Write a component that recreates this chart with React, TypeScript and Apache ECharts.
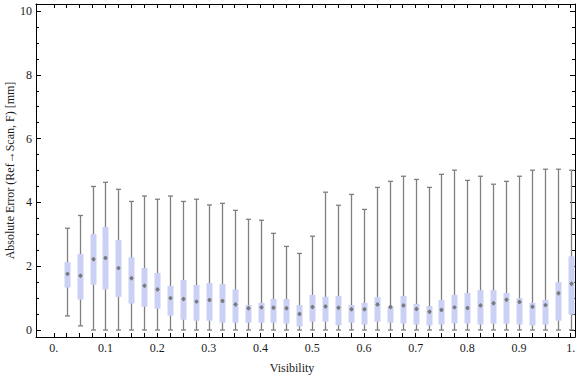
import React, { useEffect, useRef } from "react";
import * as echarts from "echarts";

const visibility = [
  0.025, 0.05, 0.075, 0.1, 0.125, 0.15, 0.175, 0.2, 0.225, 0.25,
  0.275, 0.3, 0.325, 0.35, 0.375, 0.4, 0.425, 0.45, 0.475, 0.5,
  0.525, 0.55, 0.575, 0.6, 0.625, 0.65, 0.675, 0.7, 0.725, 0.75,
  0.775, 0.8, 0.825, 0.85, 0.875, 0.9, 0.925, 0.95, 0.975, 1.0,
];
const whiskerLow = [
  0.44, 0.13, 0, 0, 0, 0, 0, 0, 0, 0,
  0, 0, 0, 0, 0, 0, 0, 0, 0, 0,
  0, 0, 0, 0, 0, 0, 0, 0, 0, 0,
  0, 0, 0, 0, 0, 0, 0, 0, 0, 0,
];
const q1 = [
  1.33, 0.95, 1.42, 1.27, 1.04, 0.83, 0.73, 0.67, 0.45, 0.32,
  0.29, 0.29, 0.23, 0.23, 0.23, 0.23, 0.23, 0.2, 0.11, 0.26,
  0.26, 0.15, 0.23, 0.17, 0.26, 0.23, 0.2, 0.17, 0.14, 0.17,
  0.21, 0.2, 0.17, 0.2, 0.2, 0.17, 0.14, 0.17, 0.29, 0.48,
];
const median = [
  1.76, 1.7, 2.22, 2.26, 1.94, 1.62, 1.39, 1.27, 1.0, 0.97,
  0.89, 0.94, 0.91, 0.8, 0.68, 0.71, 0.7, 0.68, 0.5, 0.72,
  0.74, 0.7, 0.65, 0.65, 0.8, 0.72, 0.77, 0.66, 0.57, 0.63,
  0.71, 0.69, 0.77, 0.84, 0.95, 0.88, 0.73, 0.78, 1.15, 1.45,
];
const q3 = [
  2.13, 2.38, 3.01, 3.23, 2.82, 2.28, 1.94, 1.79, 1.38, 1.57,
  1.41, 1.47, 1.44, 1.27, 0.78, 0.85, 0.97, 0.97, 0.78, 1.1,
  1.04, 1.07, 0.78, 0.85, 1.03, 0.74, 1.07, 0.82, 0.75, 0.94,
  1.1, 1.16, 1.25, 1.25, 1.16, 1.0, 0.85, 0.94, 1.5, 2.31,
];
const whiskerHigh = [
  3.19, 3.59, 4.5, 4.63, 4.41, 4.03, 4.2, 4.1, 4.2, 4.03,
  4.1, 3.92, 3.97, 3.75, 3.47, 3.44, 3.03, 2.62, 2.4, 2.94,
  4.32, 3.91, 4.25, 3.78, 4.47, 4.66, 4.82, 4.72, 4.47, 4.88,
  5.01, 4.69, 4.82, 4.57, 4.66, 4.82, 5.01, 5.04, 5.04, 5.01,
];

const xLabelValues = [0, 0.1, 0.2, 0.3, 0.4, 0.5, 0.6, 0.7, 0.8, 0.9, 1.0];
const xTickValues = visibility.concat([0]);
const yLabelValues = [0, 2, 4, 6, 8, 10];
const yMinorTickValues = [
  0, 0.5, 1, 1.5, 2, 2.5, 3, 3.5, 4, 4.5, 5, 5.5, 6, 6.5, 7, 7.5, 8, 8.5, 9, 9.5, 10,
];

const FONT = "Liberation Serif";
const TEXT = "#1a1a1a";
const WHISKER = "#7f7f7f";
const BOX = "#cbd1f5";

export default function App() {
  const ref = useRef<HTMLDivElement>(null);
  useEffect(() => {
    document.body.style.margin = "0";
    const chart = echarts.init(ref.current!, null, { renderer: "svg" });
    const data = visibility.map((v, i) => [
      v, whiskerLow[i], q1[i], median[i], q3[i], whiskerHigh[i],
    ]);
    const xFmt = (v: number) => (v === 0 ? "0." : v === 1 ? "1." : String(Number(v.toFixed(1))));
    const baseX = {
      type: "value",
      min: -0.0344,
      max: 1.0083,
      splitLine: { show: false },
      axisLine: { show: true, onZero: false, lineStyle: { color: "#000", width: 1 } },
      axisTick: {
        show: true,
        inside: true,
        length: 4,
        customValues: xTickValues,
        lineStyle: { color: "#000", width: 1 },
      },
    };
    const baseY = {
      type: "value",
      min: -0.22,
      max: 10.22,
      offset: 0,
      splitLine: { show: false },
    };
    chart.setOption({
      animation: false,
      grid: {
        left: 36,
        right: 1,
        top: 4,
        bottom: 40,
        containLabel: false,
        outerBoundsMode: "none",
      },
      xAxis: [
        {
          ...baseX,
          position: "bottom",
          name: "Visibility",
          nameLocation: "middle",
          nameGap: 25,
          nameMoveOverlap: false,
          nameTextStyle: { fontFamily: FONT, fontSize: 12, color: TEXT, padding: [0, 27, 0, 0] },
          axisLabel: {
            show: true,
            customValues: xLabelValues,
            formatter: xFmt,
            margin: 5,
            fontFamily: FONT,
            fontSize: 12,
            color: TEXT,
          },
        },
        {
          ...baseX,
          position: "top",
          axisLabel: { show: false },
        },
      ],
      yAxis: [
        {
          ...baseY,
          position: "left",
          name: "Absolute Error (Ref\u2192Scan, F) [mm]",
          nameLocation: "middle",
          nameGap: 20,
          nameMoveOverlap: false,
          nameTextStyle: { fontFamily: FONT, fontSize: 12, color: TEXT },
          axisLine: { show: true, onZero: false, lineStyle: { color: "#000", width: 1 } },
          axisTick: {
            show: true,
            inside: true,
            length: 5,
            customValues: yLabelValues,
            lineStyle: { color: "#000", width: 1 },
          },
          axisLabel: {
            show: true,
            customValues: yLabelValues,
            margin: 4,
            fontFamily: FONT,
            fontSize: 12,
            color: TEXT,
          },
        },
        {
          ...baseY,
          position: "right",
          axisLine: { show: true, onZero: false, lineStyle: { color: "#000", width: 1 } },
          axisTick: {
            show: true,
            inside: true,
            length: 5,
            customValues: yLabelValues,
            lineStyle: { color: "#000", width: 1 },
          },
          axisLabel: { show: false },
        },
        {
          ...baseY,
          position: "left",
          axisLine: { show: false, onZero: false },
          axisTick: {
            show: true,
            inside: true,
            length: 3,
            customValues: yMinorTickValues,
            lineStyle: { color: "#000", width: 1 },
          },
          axisLabel: { show: false },
        },
        {
          ...baseY,
          position: "right",
          axisLine: { show: false, onZero: false },
          axisTick: {
            show: true,
            inside: true,
            length: 3,
            customValues: yMinorTickValues,
            lineStyle: { color: "#000", width: 1 },
          },
          axisLabel: { show: false },
        },
      ],
      series: [
        {
          type: "custom",
          xAxisIndex: 0,
          yAxisIndex: 0,
          data,
          encode: { x: 0, y: [1, 2, 3, 4, 5] },
          renderItem: (params: any, api: any) => {
            const x = api.value(0);
            const pLow = api.coord([x, api.value(1)]);
            const pQ1 = api.coord([x, api.value(2)]);
            const pMed = api.coord([x, api.value(3)]);
            const pQ3 = api.coord([x, api.value(4)]);
            const pHigh = api.coord([x, api.value(5)]);
            const cx = Math.round(pLow[0]) + 0.5;
            const bw = 6;
            const cw = 2.5;
            const ws = { stroke: WHISKER, lineWidth: 1.3 };
            return {
              type: "group",
              children: [
                { type: "line", shape: { x1: cx, y1: pHigh[1], x2: cx, y2: pLow[1] }, style: ws },
                { type: "line", shape: { x1: cx - cw, y1: pHigh[1], x2: cx + cw, y2: pHigh[1] }, style: ws },
                { type: "line", shape: { x1: cx - cw, y1: pLow[1], x2: cx + cw, y2: pLow[1] }, style: ws },
                {
                  type: "rect",
                  shape: { x: cx - bw / 2, y: pQ3[1], width: bw, height: pQ1[1] - pQ3[1] },
                  style: { fill: BOX },
                },
                {
                  type: "line",
                  shape: { x1: cx - 2.5, y1: pMed[1], x2: cx + 2.5, y2: pMed[1] },
                  style: { stroke: "#9a9aae", lineWidth: 1 },
                },
                {
                  type: "ellipse",
                  shape: { cx, cy: pMed[1], rx: 1.6, ry: 2.2 },
                  style: { fill: "#7a7a7a" },
                },
              ],
            };
          },
        },
      ],
    } as any);
    return () => chart.dispose();
  }, []);
  return <div ref={ref} style={{ width: 576, height: 377 }} />;
}
